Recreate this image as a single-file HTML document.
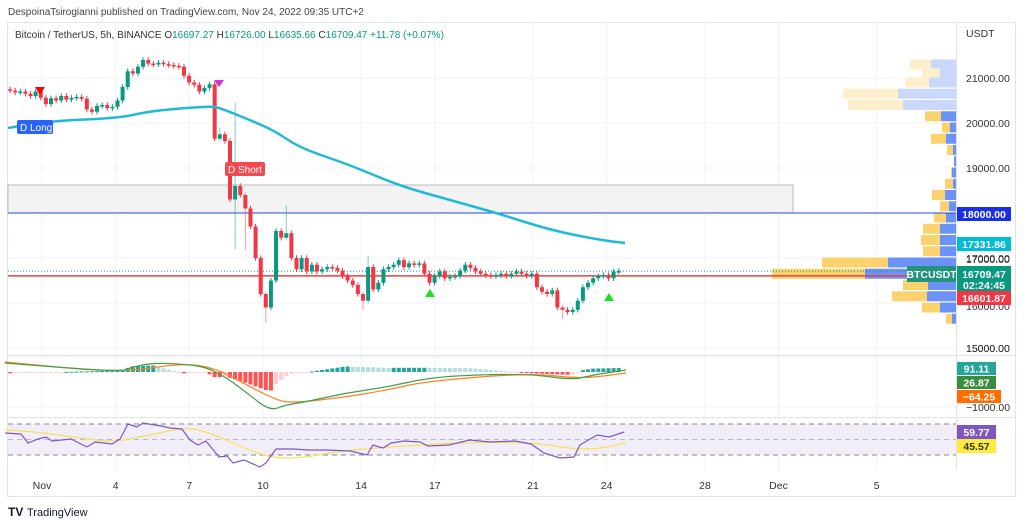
<!DOCTYPE html>
<html><head><meta charset="utf-8">
<style>
body{margin:0;background:#fff;width:1024px;height:526px;overflow:hidden;font-family:"Liberation Sans",sans-serif;}
svg{position:absolute;left:0;top:0}
text{font-family:"Liberation Sans",sans-serif}
</style></head>
<body>
<svg id="chart" width="1024" height="526">
<text x="8" y="15" font-size="10" fill="#444">DespoinaTsirogianni published on TradingView.com, Nov 24, 2022 09:35 UTC+2</text>
<rect x="7.5" y="22.5" width="1008" height="474" fill="none" stroke="#e0e3eb"/>
<g id="grid"></g>
<rect x="8" y="185" width="785" height="28" fill="#f3f3f3" stroke="#bbb" stroke-width="1"/>
<g id="vp"></g>
<g id="lines"></g>
<g id="candles"></g>
<g id="ind"></g>
<line x1="956.5" y1="22" x2="956.5" y2="470" stroke="#e0e3eb"/>
<line x1="8" y1="355.5" x2="1015" y2="355.5" stroke="#e0e3eb"/>
<line x1="8" y1="417.5" x2="1015" y2="417.5" stroke="#e0e3eb"/>
<g id="axis"></g>
<text x="15" y="38" font-size="10" fill="#333">Bitcoin / TetherUS, 5h, BINANCE <tspan fill="#333">O</tspan><tspan fill="#089981">16697.27</tspan> <tspan fill="#333">H</tspan><tspan fill="#089981">16726.00</tspan> <tspan fill="#333">L</tspan><tspan fill="#089981">16635.66</tspan> <tspan fill="#333">C</tspan><tspan fill="#089981">16709.47</tspan> <tspan fill="#089981">+11.78 (+0.07%)</tspan></text>
<g><text x="8" y="516" font-size="12" font-weight="bold" fill="#131722">TV</text><text x="27" y="516" font-size="11" fill="#131722">TradingView</text></g>
</svg>
<script>
const NS='http://www.w3.org/2000/svg';
function el(tag,attrs,parent,txt){const e=document.createElementNS(NS,tag);for(const k in attrs)e.setAttribute(k,attrs[k]);if(txt!==undefined)e.textContent=txt;(parent||document.getElementById('chart')).appendChild(e);return e;}
// ---- data ----
const closes=[20720,20680,20700,20650,20600,20700,20560,20420,20550,20500,20600,20520,20560,20580,20540,20300,20250,20380,20400,20330,20360,20500,20800,21150,21100,21250,21400,21320,21300,21340,21310,21290,21270,21250,21050,20900,20850,20700,20780,20860,19650,19750,19600,18300,18600,18400,18100,17700,17000,16200,15900,16500,17600,17450,17550,17000,16750,17000,16700,16850,16700,16750,16800,16780,16720,16600,16500,16400,16200,16050,16800,16300,16450,16750,16800,16850,16950,16800,16880,16850,16880,16650,16450,16600,16700,16550,16580,16600,16720,16850,16780,16700,16650,16620,16600,16620,16650,16600,16650,16700,16650,16600,16650,16350,16250,16200,16280,15900,15850,15800,15850,16050,16350,16450,16550,16600,16620,16550,16697,16709];
const firstOpen=20750;
const spikeHigh={44:20450,54:18180,41:19900,70:17050};
const spikeLow={44:17200,46:17180,50:15555,69:15850,108:15650};
const emaDays=[-0.38,1.33,4.18,5.40,7.84,8.25,9.47,10.49,11.51,13.55,15.58,17.62,19.66,21.69,23.73,24.75];
const emaVals=[19889,20044,20111,20267,20378,20333,20067,19822,19444,19067,18600,18289,17978,17622,17400,17333];
const macdDays=[-0.51,4.18,4.67,5.52,6.70,7.68,8.54,9.35,10.29,10.90,11.71,13.38,15.05,16.72,18.43,20.92,22.59,23.44,24.79];
const macdVals=[257,0,143,257,229,143,-171,-600,-1114,-943,-857,-600,-429,-171,-86,-57,-229,-86,57];
const sigDays=[-0.51,4.18,6.70,8.05,9.19,10.53,11.22,13.38,15.05,16.72,20.92,22.96,24.79];
const sigVals=[286,-29,257,114,-314,-800,-886,-714,-514,-257,-29,-200,-29];
const rsiDays=[-0.51,0.14,0.43,0.84,1.16,1.41,2.18,2.83,3.16,3.85,4.18,4.50,4.87,5.11,5.85,6.21,6.70,7.03,7.35,7.68,8.21,8.54,8.78,9.23,9.88,10.12,10.53,11.22,11.88,12.57,13.55,14.24,14.48,14.89,15.22,15.75,16.40,16.72,17.58,18.43,19.25,20.27,20.92,21.45,22.10,22.67,22.91,23.61,24.10,24.71];
const rsiVals=[58.4,57.1,45.5,50.6,53.2,48.1,50.6,40.3,46.8,44.2,50.6,70,66.1,71.3,67.4,64.8,63.5,49.4,42.9,48.1,27.4,28.7,19.7,23.5,14.5,19.7,37.7,37.7,36.5,36.5,35.2,30,42.9,39,45.5,48.1,46.8,41.6,42.9,49.4,46.8,48.1,44.2,32.6,26.1,27.4,42.9,55.8,53.2,59.7];
const rsiMaDays=[-0.51,0.84,2.51,3.85,5.03,6.87,7.88,9.19,10.53,11.88,13.38,15.91,17.58,20.92,22.59,23.61,24.79];
const rsiMaVals=[62.3,59.7,51.9,46.8,53.2,66.1,58.4,39,24.8,27.4,36.5,41.6,45.5,46.8,37.7,37.7,45.5];
const priceTicks=[21000,20000,19000,17000,15000];
const dateLabels=['Nov','4','7','10','14','17','21','24','28','Dec','5'];
const dateDays=[1,4,7,10,14,17,21,24,28,31,35];
const vpPrices=[21300,21100,20900,20650,20400,20150,19900,19650,19400,19150,18900,18650,18400,18150,17900,17650,17400,17150,16900,16650,16400,16150,15900,15650];
const vpUp=[21,18,23,55,55,16,8,15,6,0,1,8,13,9,12,17,19,17,66,93,25,35,18,6];
const vpDown=[25,16,27,58,53,15,6,10,3,2,4,3,11,7,10,16,16,16,68,91,28,29,16,4];
// ---- axes ----
const X=d=>42+(d-1)*24.55;
const Y=p=>123+(20000-p)*0.045;
const YM=v=>372-v*0.035;
const YR=r=>455-(r-30)*0.775;
const candleDay=i=>-0.30+i*5/24;
function interp(ds,vs,d){if(d<=ds[0])return vs[0];for(let k=1;k<ds.length;k++){if(d<=ds[k]){const t=(d-ds[k-1])/(ds[k]-ds[k-1]);return vs[k-1]+t*(vs[k]-vs[k-1]);}}return vs[vs.length-1];}
function smoothPath(ds,vs,fx,fy){let s='';for(let k=0;k<ds.length;k++){const x=fx(ds[k]),y=fy(vs[k]);if(k===0){s+='M'+x.toFixed(1)+' '+y.toFixed(1);}else{const px=fx(ds[k-1]),py=fy(vs[k-1]);const mx=(px+x)/2,my=(py+y)/2;s+=' Q'+px.toFixed(1)+' '+py.toFixed(1)+' '+mx.toFixed(1)+' '+my.toFixed(1);if(k===ds.length-1)s+=' L'+x.toFixed(1)+' '+y.toFixed(1);}}return s;}
const grid=document.getElementById('grid'),axis=document.getElementById('axis');
dateDays.forEach((d,i)=>{
  const g=el('line',{x1:X(d),x2:X(d),y1:22,y2:470,stroke:'#f0f3fa'},grid);
  
  
  const t=el('text',{x:X(d),y:489,'font-size':10.5,fill:'#333','text-anchor':'middle'},axis,dateLabels[i]);
  
  
});
[21000,20000,19000,18000,17000,16000,15000].forEach(p=>{
  const g=el('line',{x1:8,x2:956,y1:Y(p),y2:Y(p),stroke:'#f0f3fa'},grid);
  
  
});
priceTicks.forEach(p=>{
  const t=el('text',{x:966,y:Y(p)+4,'font-size':10.5,fill:'#333'},axis,p.toFixed(2));
  
  
});
const u=el('text',{x:966,y:37,'font-size':10.5,fill:'#333'},axis,'USDT');


const vp=document.getElementById('vp');
vpPrices.forEach((p,i)=>{
  const y=Y(p)-5, light=i<5;
  const b=el('rect',{x:956-vpDown[i],y:y,width:vpDown[i],height:10,fill:light?'#c9d8fb':'#6b93f7'},vp);
  
  
  const a=el('rect',{x:956-vpDown[i]-vpUp[i],y:y,width:vpUp[i],height:10,fill:light?'#fdefcc':'#fbd36e'},vp);
  
  
});
const L=document.getElementById('lines');
let l1=el('line',{x1:8,x2:956,y1:Y(18000),y2:Y(18000),stroke:'#2244ee','stroke-width':1},L);


let l2=el('line',{x1:8,x2:956,y1:Y(16601.87),y2:Y(16601.87),stroke:'#ef3d3d','stroke-width':1.5},L);


let l3=el('line',{x1:8,x2:956,y1:Y(16709.47),y2:Y(16709.47),stroke:'#089981','stroke-width':1,'stroke-dasharray':'1 2'},L);


const C=document.getElementById('candles');
closes.forEach((c,i)=>{
  const o=i===0?firstOpen:closes[i-1];
  const up=c>=o, col=up?'#089981':'#f23645';
  const hi=spikeHigh[i]!==undefined?spikeHigh[i]:Math.max(o,c)+60;
  const lo=spikeLow[i]!==undefined?spikeLow[i]:Math.min(o,c)-60;
  const x=X(candleDay(i));
  const w=el('line',{x1:x,x2:x,y1:Y(hi),y2:Y(lo),stroke:col,'stroke-width':1,opacity:(spikeHigh[i]||spikeLow[i])?0.5:1},C);
  
  
  const top=Y(Math.max(o,c)),h=Math.max(1.5,Y(Math.min(o,c))-top);
  const b=el('rect',{x:x-2,y:top,width:4,height:h,fill:col},C);
  
  
});
const I=document.getElementById('ind');
const ema=el('path',{d:smoothPath(emaDays,emaVals,X,Y),fill:'none',stroke:'#1fbad6','stroke-width':2.5,'stroke-linejoin':'round'},I);


const mk=[['polygon',{points:'35,87 45,87 40,95',fill:'#f00'},'sell-marker'],['polygon',{points:'214,80 224,80 219,87',fill:'#d52ee0'},'sell-marker-2'],['polygon',{points:'425,297 435,297 430,289',fill:'#22dd22'},'buy-marker'],['polygon',{points:'604,301 614,301 609,293',fill:'#22dd22'},'buy-marker-2']];
mk.forEach(m=>{const e=el(m[0],m[1],I);});
const lg=el('g',{},I);
el('rect',{x:17,y:120,width:36,height:14,rx:2,fill:'#2962ff'},lg);el('text',{x:20,y:131,'font-size':10,fill:'#fff'},lg,'D Long');
const sg=el('g',{},I);
el('rect',{x:225,y:162,width:40,height:14,rx:2,fill:'#f5484f'},sg);el('text',{x:228,y:173,'font-size':10,fill:'#fff'},sg,'D Short');
el('line',{x1:8,x2:956,y1:YM(-1000),y2:YM(-1000),stroke:'#f0f3fa'},grid);
el('line',{x1:8,x2:956,y1:YM(1000)+20,y2:YM(1000)+20,stroke:'#f0f3fa'},grid);
closes.forEach((c,i)=>{
  const d=candleDay(i);
  const h=(interp(macdDays,macdVals,d)-interp(sigDays,sigVals,d))*1.4;
  const prev=i?(interp(macdDays,macdVals,candleDay(i-1))-interp(sigDays,sigVals,candleDay(i-1)))*1.4:h;
  const grow=Math.abs(h)>=Math.abs(prev);
  const col=h>=0?(grow?'#26a69a':'#b2dfdb'):(grow?'#ff5252':'#ffcdd2');
  const y0=YM(0),y1=YM(h);
  const r=el('rect',{x:X(d)-2,y:Math.min(y0,y1),width:4,height:Math.max(1,Math.abs(y1-y0)),fill:col},I);
  
  
});
const sp=el('path',{d:smoothPath(sigDays,sigVals,X,YM),fill:'none',stroke:'#ff7f27','stroke-width':1.2},I);


const mp=el('path',{d:smoothPath(macdDays,macdVals,X,YM),fill:'none',stroke:'#43a047','stroke-width':1.2},I);


const band=el('rect',{x:8,y:YR(70),width:948,height:YR(30)-YR(70),fill:'#f1eefa'},grid);


[70,50,30].forEach(v=>{const d=el('line',{x1:8,x2:956,y1:YR(v),y2:YR(v),stroke:'#888','stroke-dasharray':'5 4','stroke-width':1,opacity:v===50?0.5:1},grid);});
const ry=el('path',{d:smoothPath(rsiMaDays,rsiMaVals,X,YR),fill:'none',stroke:'#f5e256','stroke-width':1.2},I);


const rp=el('path',{d:rsiDays.map((d,i)=>(i?'L':'M')+X(d).toFixed(1)+' '+YR(rsiVals[i]).toFixed(1)).join(' '),fill:'none',stroke:'#7e57c2','stroke-width':1.2},I);


function badge(x,y,w,h,fill,txt,name,col){const g=el('g',{},axis);el('rect',{x:x,y:y,width:w,height:h,fill:fill},g);el('text',{x:x+w/2,y:y+h/2+4,'font-size':10.5,'font-weight':'bold',fill:col||'#fff','text-anchor':'middle'},g,txt);return g;}
badge(957,207,54,14,'#1a2ee8','18000.00','badge-18000');
badge(957,237,54,14,'#00bcd4','17331.86','badge-ema');
el('text',{x:966,y:263,'font-size':10.5,fill:'#333'},axis,'17000.00');
el('text',{x:966,y:310,'font-size':10.5,fill:'#333'},axis,'16000.00');
badge(907,266,49,16,'#22947e','BTCUSDT','symbol-badge');
const lp=badge(957,266,54,25,'#089981','16709.47','badge-last-price');
lp.querySelector('text').setAttribute('y',278);
el('text',{x:984,y:289,'font-size':10.5,'font-weight':'bold',fill:'#fff','text-anchor':'middle'},lp,'02:24:45');
badge(957,291,54,14,'#f23645','16601.87','badge-16601');
el('text',{x:966,y:352,'font-size':10.5,fill:'#333'},axis,'15000.00');
badge(957,362,39,13,'#26a69a','91.11','badge-macd-hist');
badge(957,376,39,13,'#388e3c','26.87','badge-macd');
badge(957,390,44,13,'#ff6d00','\u221264.25','badge-signal');
el('text',{x:966,y:411,'font-size':10.5,fill:'#333'},axis,'\u22121000.00');
badge(957,425,39,14,'#7e57c2','59.77','badge-rsi');
badge(957,439,39,14,'#ffeb3b','45.57','badge-rsi-ma','#333');
</script>
</body></html>
